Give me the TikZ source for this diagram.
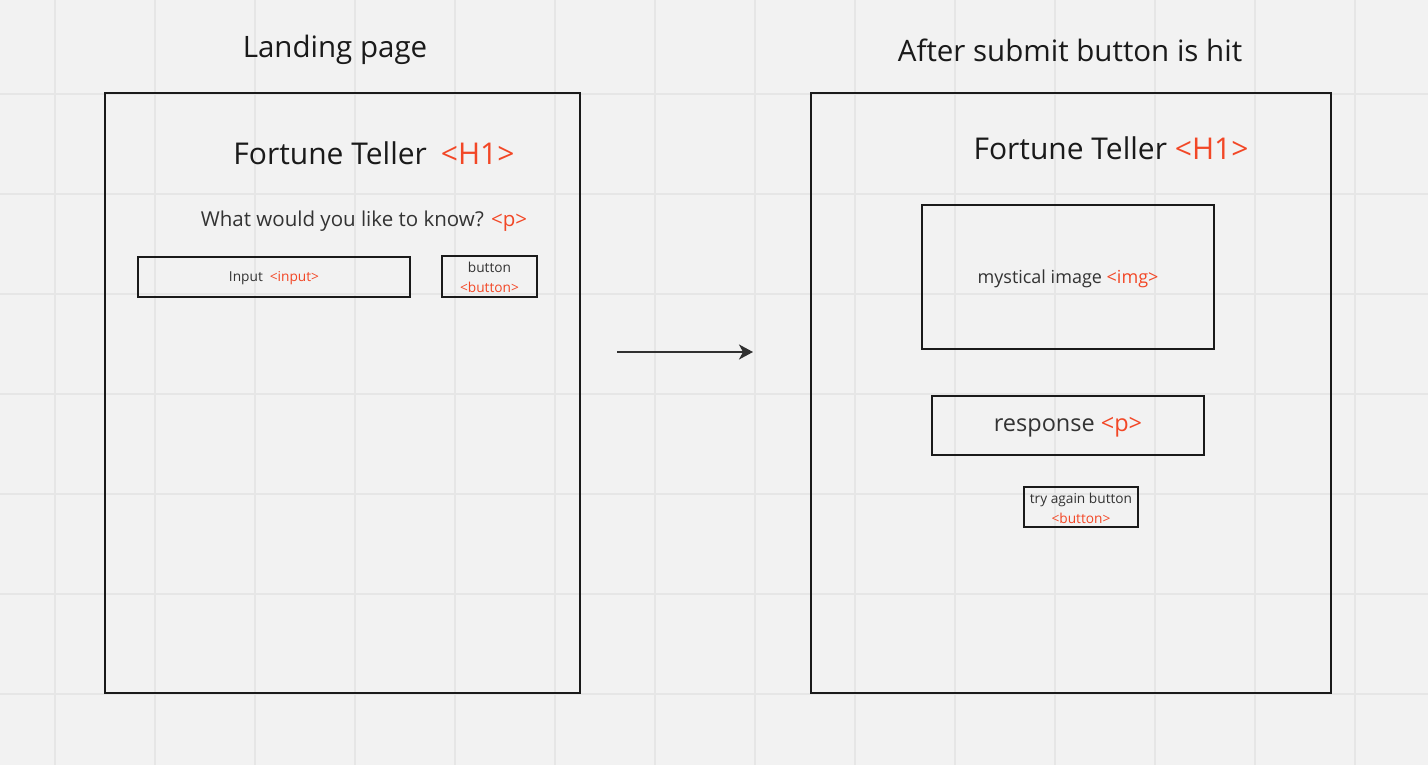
\documentclass[tikz,border=0pt]{standalone}
\usepackage{fontspec}
\usetikzlibrary{arrows.meta}
\setmainfont{Open Sans}
\definecolor{bg}{HTML}{F2F2F2}
\definecolor{gridc}{HTML}{E6E6E6}
\definecolor{ink}{HTML}{1A1A1A}
\definecolor{txt}{HTML}{333333}
\definecolor{tag}{HTML}{F24726}
\newcommand{\tg}[1]{\textcolor{tag}{#1}}
\begin{document}
\begin{tikzpicture}[x=1pt,y=-1pt,
  frame/.style={draw=ink,line width=2pt},
  box/.style={draw=ink,line width=2pt},
  lbl/.style={inner sep=0pt,text=txt,anchor=center,align=center},
  arr/.style={draw=ink!90!white,line width=2pt,-{Stealth[length=14pt,width=15pt,inset=4pt]}}]
\useasboundingbox (0,0) rectangle (1428,765);
\fill[bg] (0,0) rectangle (1428,765);
\foreach \x in {55,155,...,1455} \draw[gridc,line width=1.2pt] (\x,0) -- (\x,765);
\foreach \y in {94,194,...,794} \draw[gridc,line width=1.2pt] (0,\y) -- (1428,\y);
% titles
\node[lbl,font=\fontsize{29.5}{34}\selectfont,text=ink] (t1) at (335,50) {Landing page};
\node[lbl,font=\fontsize{29.5}{34}\selectfont,text=ink] (t2) at (1070,50) {After submit button is hit};
% frames
\draw[frame] (105,93) rectangle (580,693);
\draw[frame] (811,93) rectangle (1331,693);
% left content
\node[lbl,font=\fontsize{30}{34}\selectfont,text=ink] (h1a) at (374,153) {Fortune Teller\hspace{14pt}\tg{<H1>}};
\node[lbl,font=\fontsize{20.5}{24}\selectfont] (pa) at (364,221) {What would you like to know? \tg{<p>}};
\node[box,minimum width=272pt,minimum height=40pt,inner sep=0pt] (inp) at (274,277) {};
\node[lbl,font=\fontsize{13.7}{16}\selectfont] at (274,278) {Input\hspace{7pt}\tg{<input>}};
\node[box,minimum width=95pt,minimum height=41pt,inner sep=0pt] (btn) at (489.5,276.5) {};
\node[lbl,font=\fontsize{13.7}{20}\selectfont] at (489.5,277.5) {button\\\tg{<button>}};
% arrow
\coordinate (as) at (617,352);
\coordinate (ae) at (753,352);
\draw[arr] (as) -- (ae);
% right content
\node[lbl,font=\fontsize{30}{34}\selectfont,text=ink] (h1b) at (1111,148) {Fortune Teller \tg{<H1>}};
\node[box,minimum width=292pt,minimum height=144pt,inner sep=0pt] (img) at (1068,277) {};
\node[lbl,font=\fontsize{18}{21}\selectfont] at (1068,278.5) {mystical image \tg{<img>}};
\node[box,minimum width=272pt,minimum height=59pt,inner sep=0pt] (resp) at (1068,425.5) {};
\node[lbl,font=\fontsize{23.5}{27}\selectfont] at (1068,427.5) {response \tg{<p>}};
\node[box,minimum width=114pt,minimum height=40pt,inner sep=0pt] (try) at (1081,507) {};
\node[lbl,font=\fontsize{13.7}{20}\selectfont] at (1081,508) {try again button\\\tg{<button>}};
\end{tikzpicture}
\end{document}
